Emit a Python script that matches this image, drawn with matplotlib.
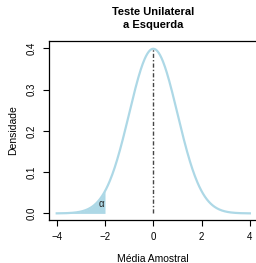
import numpy as np
import matplotlib
matplotlib.use("Agg")
import matplotlib.pyplot as plt

plt.rcParams['font.family'] = ['Liberation Sans', 'DejaVu Sans']

# curve values (standard normal density)
x_vals = np.linspace(-4, 4, 401)
dens = np.exp(-x_vals ** 2 / 2) / np.sqrt(2 * np.pi)
crit = -2.0
x_ticks = [-4, -2, 0, 2, 4]
y_ticks = [0.0, 0.1, 0.2, 0.3, 0.4]
y_tick_labels = ["0.0", "0.1", "0.2", "0.3", "0.4"]

fig = plt.figure(figsize=(2.56, 2.63), dpi=100)
ax = fig.add_axes([49 / 256, 1 - 220 / 263, (257.6 - 49) / 256, (220 - 41) / 263])

ax.plot(x_vals, dens, color='lightblue', lw=1.6)
mask = x_vals <= crit
ax.fill_between(x_vals[mask], 0, dens[mask], color='lightblue', lw=0)
ax.plot([0, 0], [0, dens.max()], color='#444444', lw=1.0, linestyle=(0, (3, 1.5, 1, 1.5)))
ax.text(-2.15, 0.022, "\u03b1", fontsize=7, ha='center', va='center', color='#222222')

ax.set_xlim(-4.32, 4.32)
ax.set_ylim(-0.016, 0.4178)
ax.set_xticks(x_ticks)
ax.set_xticklabels([str(t).replace('-', '\u2212') for t in x_ticks])
ax.set_yticks(y_ticks)
ax.set_yticklabels(y_tick_labels, rotation=90, va='center')
ax.tick_params(labelsize=7, length=4, width=0.8, pad=5)
ax.spines['right'].set_visible(False)
for s in ['left', 'top', 'bottom']:
    ax.spines[s].set_linewidth(0.9)

ax.set_xlabel("Média Amostral", fontsize=7.5, labelpad=8)
ax.set_ylabel("Densidade", fontsize=7.5, labelpad=6)
fig.text(153 / 256, 1 - 12 / 263, "Teste Unilateral", fontsize=8, fontweight='bold',
         ha='center', va='center')
fig.text(153 / 256, 1 - 25 / 263, "a Esquerda", fontsize=8, fontweight='bold',
         ha='center', va='center')

fig.savefig("out.png", dpi=100)
